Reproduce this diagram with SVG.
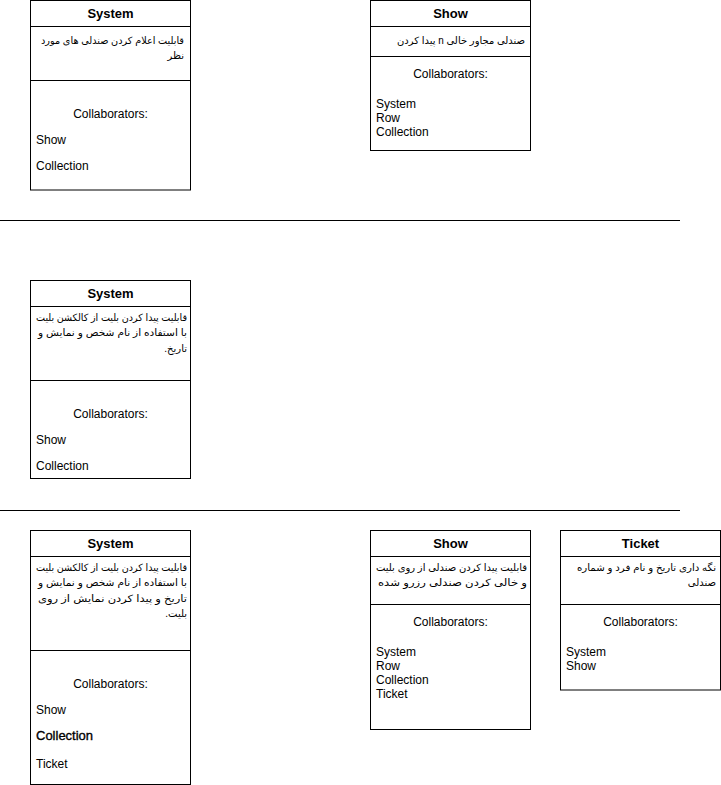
<svg xmlns="http://www.w3.org/2000/svg" width="721" height="785" viewBox="0 0 721 785">
<style>
.box{fill:#fff;stroke:#000;stroke-width:1}
.sep{stroke:#000;stroke-width:1;fill:none}
.title{font-family:"Liberation Sans","DejaVu Sans",sans-serif;font-size:13px;font-weight:bold;text-anchor:middle;fill:#000}
.fa{font-family:"Liberation Sans","DejaVu Sans",sans-serif;font-size:10px;fill:#000;direction:rtl;text-anchor:start}
.c{font-family:"Liberation Sans","DejaVu Sans",sans-serif;font-size:12px;fill:#000;text-anchor:middle}
.l{font-family:"Liberation Sans","DejaVu Sans",sans-serif;font-size:12px;fill:#000}
.div{stroke:#000;stroke-width:1}
</style>
<rect width="721" height="785" fill="#fff"/>
<g id="connectors">
<line class="div" x1="0" y1="220.5" x2="680" y2="220.5"/>
<line class="div" x1="0" y1="510.5" x2="680" y2="510.5"/>
</g>
<g id="system1">
<rect class="box" x="30.5" y="0.5" width="160" height="189.5"/>
<line class="sep" x1="30.5" y1="26.5" x2="190.5" y2="26.5"/>
<line class="sep" x1="30.5" y1="80.5" x2="190.5" y2="80.5"/>
<text class="title" x="110.5" y="18">System</text>
<text class="fa" x="184" y="44" textLength="143" lengthAdjust="spacingAndGlyphs">قابلیت اعلام کردن صندلی های مورد</text>
<text class="fa" x="184" y="59">نظر</text>
<text class="c" x="110.5" y="118">Collaborators:</text>
<text class="l" x="36" y="144">Show</text>
<text class="l" x="36" y="170">Collection</text>
</g>
<g id="show1">
<rect class="box" x="370.5" y="0.5" width="160" height="150"/>
<line class="sep" x1="370.5" y1="26.5" x2="530.5" y2="26.5"/>
<line class="sep" x1="370.5" y1="56.5" x2="530.5" y2="56.5"/>
<text class="title" x="450.5" y="18">Show</text>
<text class="fa" x="525" y="44" textLength="128" lengthAdjust="spacingAndGlyphs">صندلی مجاور خالی n پیدا کردن</text>
<text class="c" x="450.5" y="78">Collaborators:</text>
<text class="l" x="376" y="108">System</text>
<text class="l" x="376" y="122">Row</text>
<text class="l" x="376" y="136">Collection</text>
</g>
<g id="system2">
<rect class="box" x="30.5" y="280.5" width="160" height="198"/>
<line class="sep" x1="30.5" y1="306.5" x2="190.5" y2="306.5"/>
<line class="sep" x1="30.5" y1="380.5" x2="190.5" y2="380.5"/>
<text class="title" x="110.5" y="298">System</text>
<text class="fa" x="187" y="321" textLength="151" lengthAdjust="spacingAndGlyphs">قابلیت پیدا کردن بلیت از کالکشن بلیت</text>
<text class="fa" x="187" y="336" textLength="149" lengthAdjust="spacingAndGlyphs">با استفاده از نام شخص و نمایش و</text>
<text class="fa" x="187" y="352">تاریخ.</text>
<text class="c" x="110.5" y="418">Collaborators:</text>
<text class="l" x="36" y="444">Show</text>
<text class="l" x="36" y="470">Collection</text>
</g>
<g id="system3">
<rect class="box" x="30.5" y="530.5" width="160" height="254"/>
<line class="sep" x1="30.5" y1="556.5" x2="190.5" y2="556.5"/>
<line class="sep" x1="30.5" y1="650.5" x2="190.5" y2="650.5"/>
<text class="title" x="110.5" y="548">System</text>
<text class="fa" x="187" y="571" textLength="151" lengthAdjust="spacingAndGlyphs">قابلیت پیدا کردن بلیت از کالکشن بلیت</text>
<text class="fa" x="187" y="586" textLength="149" lengthAdjust="spacingAndGlyphs">با استفاده از نام شخص و نمایش و</text>
<text class="fa" x="187" y="602" textLength="149" lengthAdjust="spacingAndGlyphs">تاریخ و پیدا کردن نمایش از روی</text>
<text class="fa" x="187" y="617">بلیت.</text>
<text class="c" x="110.5" y="688">Collaborators:</text>
<text class="l" x="36" y="714">Show</text>
<text class="l" x="36" y="740" style="font-size:13px;stroke:#000;stroke-width:0.35">Collection</text>
<text class="l" x="36" y="768">Ticket</text>
</g>
<g id="show2">
<rect class="box" x="370.5" y="530.5" width="160" height="199"/>
<line class="sep" x1="370.5" y1="556.5" x2="530.5" y2="556.5"/>
<line class="sep" x1="370.5" y1="604.5" x2="530.5" y2="604.5"/>
<text class="title" x="450.5" y="548">Show</text>
<text class="fa" x="527" y="571" textLength="151" lengthAdjust="spacingAndGlyphs">قابلیت پیدا کردن صندلی از روی بلیت</text>
<text class="fa" x="527" y="586" textLength="149" lengthAdjust="spacingAndGlyphs">و خالی کردن صندلی رزرو شده</text>
<text class="c" x="450.5" y="626">Collaborators:</text>
<text class="l" x="376" y="656">System</text>
<text class="l" x="376" y="670">Row</text>
<text class="l" x="376" y="684">Collection</text>
<text class="l" x="376" y="698">Ticket</text>
</g>
<g id="ticket">
<rect class="box" x="560.5" y="530.5" width="160" height="159.5"/>
<line class="sep" x1="560.5" y1="556.5" x2="720.5" y2="556.5"/>
<line class="sep" x1="560.5" y1="604.5" x2="720.5" y2="604.5"/>
<text class="title" x="640.5" y="548">Ticket</text>
<text class="fa" x="716" y="571" textLength="139" lengthAdjust="spacingAndGlyphs">نگه داری تاریخ و نام فرد و شماره</text>
<text class="fa" x="716" y="586">صندلی</text>
<text class="c" x="640.5" y="626">Collaborators:</text>
<text class="l" x="566" y="656">System</text>
<text class="l" x="566" y="670">Show</text>
</g>
</svg>
